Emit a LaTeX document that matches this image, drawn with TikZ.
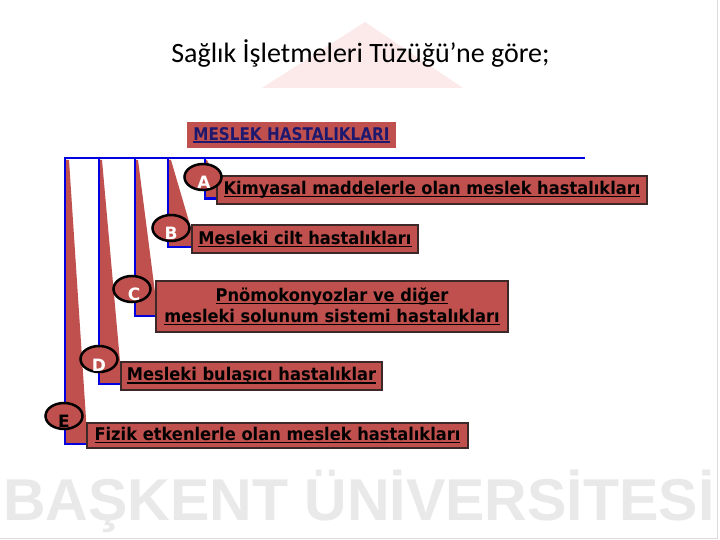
\documentclass[tikz,border=0pt]{standalone}
\usepackage{fontspec}
\setmainfont{Carlito}
\newfontfamily\boxf[FakeStretch=0.93]{DejaVu Sans}
\newfontfamily\headf[FakeStretch=0.87]{DejaVu Sans}
\newfontfamily\labf{DejaVu Sans}
\newfontfamily\wmf{Liberation Sans}
\usetikzlibrary{shapes.geometric}
\pgfdeclarelayer{back}
\pgfdeclarelayer{links}
\pgfsetlayers{back,links,main}
\definecolor{boxred}{RGB}{192,80,77}
\definecolor{connblue}{RGB}{0,0,225}
\definecolor{boxedge}{RGB}{60,40,40}
\definecolor{navy}{RGB}{30,25,110}
\definecolor{wmgray}{RGB}{233,233,233}
\definecolor{wmpink}{RGB}{252,233,233}
\newsavebox\ulbox
\newcommand\ulx[1]{\sbox\ulbox{#1}\rlap{\rule[-2.6pt]{\wd\ulbox}{1.3pt}}\usebox\ulbox}
\tikzset{
  conn/.style={draw=connblue,line width=2.5pt},
  wedge/.style={fill=boxred},
  catbox/.style={rectangle,fill=boxred,draw=boxedge,line width=1.5pt,inner sep=0pt,
    font=\boxf\bfseries\fontsize{17.5}{21}\selectfont,align=center,text=black},
  headbox/.style={rectangle,fill=boxred,inner sep=0pt,
    font=\headf\bfseries\fontsize{17.5}{21}\selectfont,text=navy},
  lab/.style={ellipse,fill=boxred,draw=black,line width=2.5pt,minimum width=37pt,minimum height=26pt,inner sep=0pt},
  labtxt/.style={font=\labf\bfseries\fontsize{17}{20}\selectfont,text=white,inner sep=0pt}
}
\begin{document}
\begin{tikzpicture}[x=1pt,y=-1pt]
\useasboundingbox (0,0) rectangle (720,540);
\begin{pgfonlayer}{back}
\fill[white] (0,0) rectangle (720,540);
\fill[wmpink] (262,88) -- (463,88) -- (365,22) -- cycle;
\draw[black!14,line width=1pt] (717.5,0) -- (717.5,538.5) -- (0,538.5);
\node[anchor=base west,inner sep=0pt,text=wmgray,font=\wmf\bfseries\fontsize{59}{60}\selectfont] (wm) at (3,520) {BAŞKENT ÜNİVERSİTESİ};
\end{pgfonlayer}
% title
\node[anchor=base,inner sep=0pt,font=\fontsize{28}{32}\selectfont] (title) at (360.5,63) {Sağlık İşletmeleri Tüzüğü’ne göre;};
% header
\node[headbox,minimum width=209pt,minimum height=26pt] (H) at (291.5,135) {\ulx{MESLEK HASTALIKLARI}};
% category boxes
\node[catbox,minimum width=430pt,minimum height=28pt] (A) at (432,190) {\ulx{Kimyasal maddelerle olan meslek hastalıkları}};
\node[catbox,minimum width=226pt,minimum height=28pt] (B) at (305,239) {\ulx{Mesleki cilt hastalıkları}};
\node[catbox,minimum width=352pt,minimum height=51pt] (C) at (332,306.5) {\ulx{Pnömokonyozlar ve diğer}\\\ulx{mesleki solunum sistemi hastalıkları}};
\node[catbox,minimum width=261pt,minimum height=28pt] (D) at (251.5,376) {\ulx{Mesleki bulaşıcı hastalıklar}};
\node[catbox,minimum width=381pt,minimum height=25pt] (E) at (277.5,435.5) {\ulx{Fizik etkenlerle olan meslek hastalıkları}};
% connector points
\coordinate (tA) at (205,158);
\coordinate (tB) at (168,158);
\coordinate (tC) at (135,158);
\coordinate (tD) at (99,158);
\coordinate (tE) at (65,158);
\coordinate (tR) at (585,158);
\coordinate (aA) at ([yshift=6pt]A.south west);
\coordinate (aB) at ([yshift=7pt]B.south west);
\coordinate (aC) at ([yshift=17pt]C.south west);
\coordinate (aD) at ([yshift=7pt]D.south west);
\coordinate (aE) at ([yshift=5pt]E.south west);
\coordinate (wA) at ([yshift=-4pt]A.north west);
\coordinate (wB) at ([yshift=-5pt]B.north west);
\coordinate (wC) at ([yshift=-14pt]C.north west);
\coordinate (wD) at ([yshift=-3pt]D.north west);
\coordinate (wE) at (E.north west);
\begin{pgfonlayer}{links}
% wedges (callout tails)
\fill[wedge] ([yshift=-2pt]tE) -- ([xshift=4pt,yshift=-2pt]tE) -- (wE) -- (aE) -- (tE |- aE) -- cycle;
\fill[wedge] ([yshift=-2pt]tD) -- ([xshift=3pt,yshift=-2pt]tD) -- (wD) -- (aD) -- (tD |- aD) -- cycle;
\fill[wedge] ([yshift=-2pt]tC) -- ([xshift=3pt,yshift=-2pt]tC) -- (wC) -- (aC) -- (tC |- aC) -- cycle;
\fill[wedge] ([yshift=-2pt]tB) -- ([xshift=3pt,yshift=-2pt]tB) -- (wB) -- (aB) -- (tB |- aB) -- cycle;
\fill[wedge] ([yshift=-2pt]tA) -- ([xshift=2pt,yshift=-2pt]tA) -- (wA) -- (aA) -- (tA |- aA) -- cycle;
% connectors
\draw[conn] (tR) -- (tE) |- (aE);
\draw[conn] (tD) |- (aD);
\draw[conn] (tC) |- (aC);
\draw[conn] (tB) |- (aB);
\draw[conn] (tA) |- (aA);
\end{pgfonlayer}
% letter labels
\node[lab] (eA) at (203,177) {};
\node[labtxt] (lA) at ([xshift=1pt,yshift=-5pt]eA.center) {A};
\node[lab] (eB) at (171,228) {};
\node[labtxt] (lB) at ([yshift=-5pt]eB.center) {B};
\node[lab] (eC) at (132,289) {};
\node[labtxt] (lC) at ([xshift=2pt,yshift=-5pt]eC.center) {C};
\node[lab] (eD) at (99,359) {};
\node[labtxt] (lD) at ([yshift=-6pt]eD.center) {D};
\node[lab] (eE) at (64,416) {};
\node[labtxt,text=black] (lE) at ([yshift=-5pt]eE.center) {E};
\end{tikzpicture}
\end{document}
